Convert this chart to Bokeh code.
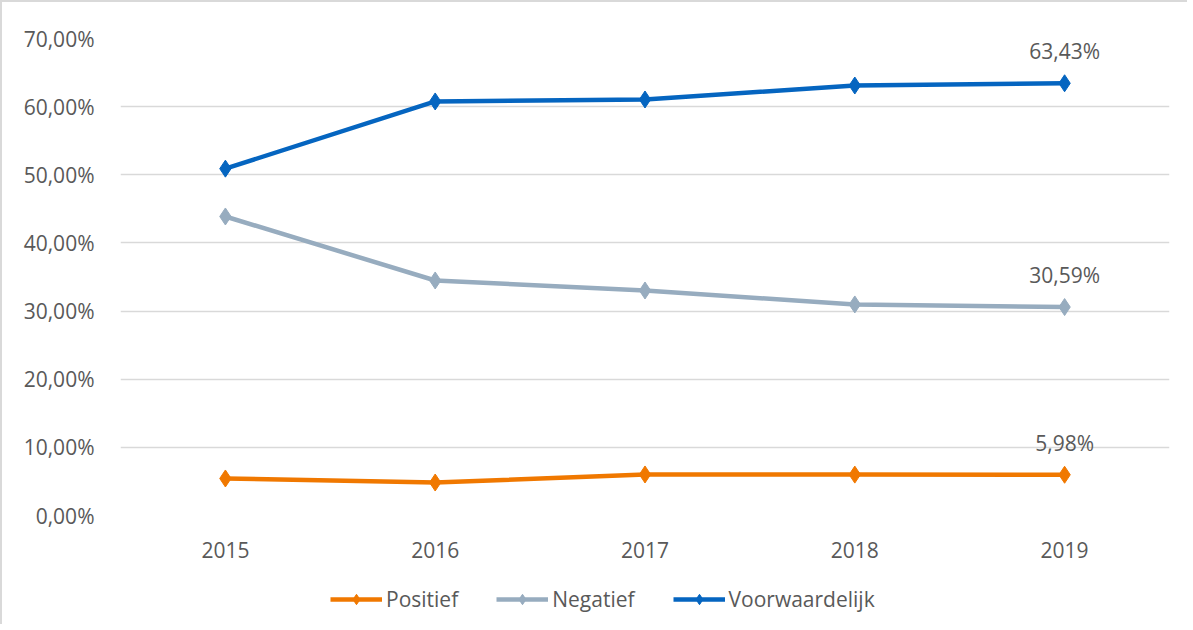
from bokeh.plotting import figure
from bokeh.layouts import column
from bokeh.models import Range1d, FactorRange, FixedTicker, Legend, LegendItem, ColumnDataSource
from bokeh.core.properties import value
from bokeh.embed import file_html
from bokeh.resources import INLINE

years = ["2015", "2016", "2017", "2018", "2019"]
positief = [5.43, 4.84, 6.02, 6.00, 5.98]
negatief = [43.88, 34.49, 33.02, 30.97, 30.59]
voorwaardelijk = [50.90, 60.76, 61.05, 63.10, 63.43]
series_names = ["Positief", "Negatief", "Voorwaardelijk"]
colors = ["#F07800", "#97ACBF", "#0565C0"]
y_ticks = [0, 10, 20, 30, 40, 50, 60, 70]
y_tick_labels = ["0,00%", "10,00%", "20,00%", "30,00%", "40,00%", "50,00%", "60,00%", "70,00%"]
label_year = ["2019", "2019", "2019"]
label_values = [positief[-1], negatief[-1], voorwaardelijk[-1]]
label_texts = ["5,98%", "30,59%", "63,43%"]

FONT = "Open Sans"
TXT = "#595959"
W = 1185

p = figure(width=W, height=573, x_range=FactorRange(factors=years, range_padding=0),
           y_range=Range1d(0, 70), output_backend="svg", toolbar_location=None,
           min_border_left=118, min_border_right=18, min_border_top=36, min_border_bottom=60)
p.outline_line_color = None
p.background_fill_color = "white"
p.border_fill_color = "white"

p.xgrid.grid_line_color = None
p.ygrid.grid_line_color = "#d9d9d9"
p.ygrid.grid_line_width = 1.5
p.yaxis.ticker = FixedTicker(ticks=y_ticks)
p.yaxis.major_label_overrides = {t: l for t, l in zip(y_ticks, y_tick_labels)}
for ax in (p.xaxis, p.yaxis):
    ax.axis_line_color = None
    ax.major_tick_line_color = None
    ax.minor_tick_line_color = None
    ax.major_label_text_font = FONT
    ax.major_label_text_font_size = "21px"
    ax.major_label_text_color = TXT
p.yaxis.major_label_standoff = 20
p.xaxis.major_label_standoff = 20

for name, vals, c in zip(series_names, [positief, negatief, voorwaardelijk], colors):
    src = ColumnDataSource(dict(x=years, y=vals))
    p.line("x", "y", source=src, line_color=c, line_width=4.5)
    p.scatter("x", "y", source=src, marker="diamond", size=17, fill_color=c, line_color=c)

p.text(x=label_year, y=label_values, text=label_texts, text_align="center", text_baseline="middle",
       y_offset=-32, text_font=value(FONT), text_font_size="21px", text_color=TXT)

# legend strip below the chart (its sample glyphs sit outside the visible range)
lg = figure(width=W, height=49, x_range=Range1d(0, 1), y_range=Range1d(0, 1),
            output_backend="svg", toolbar_location=None,
            min_border_left=0, min_border_right=0, min_border_top=0, min_border_bottom=0)
lg.axis.visible = False
lg.grid.visible = False
lg.outline_line_color = None
lg.background_fill_color = "white"
lg.border_fill_color = "white"
items = []
for name, c in zip(series_names, colors):
    s = ColumnDataSource(dict(x=[-5, -4], y=[-5, -5]))
    lr = lg.line("x", "y", source=s, line_color=c, line_width=4.5)
    sr = lg.scatter("x", "y", source=s, marker="diamond", size=17, fill_color=c, line_color=c)
    items.append(LegendItem(label=name, renderers=[lr, sr]))
legend = Legend(items=items, orientation="horizontal", location=(210, 11),
                label_text_font=FONT, label_text_font_size="21px", label_text_color=TXT,
                glyph_width=52, glyph_height=26, label_standoff=4, spacing=38,
                border_line_color=None, background_fill_alpha=0, padding=0, margin=0)
lg.add_layout(legend, "center")

layout = column(p, lg, spacing=0)
layout.styles = {"border-left": "2px solid #d9d9d9", "border-top": "2px solid #d9d9d9"}

open("out.html", "w").write(file_html(layout, INLINE))
